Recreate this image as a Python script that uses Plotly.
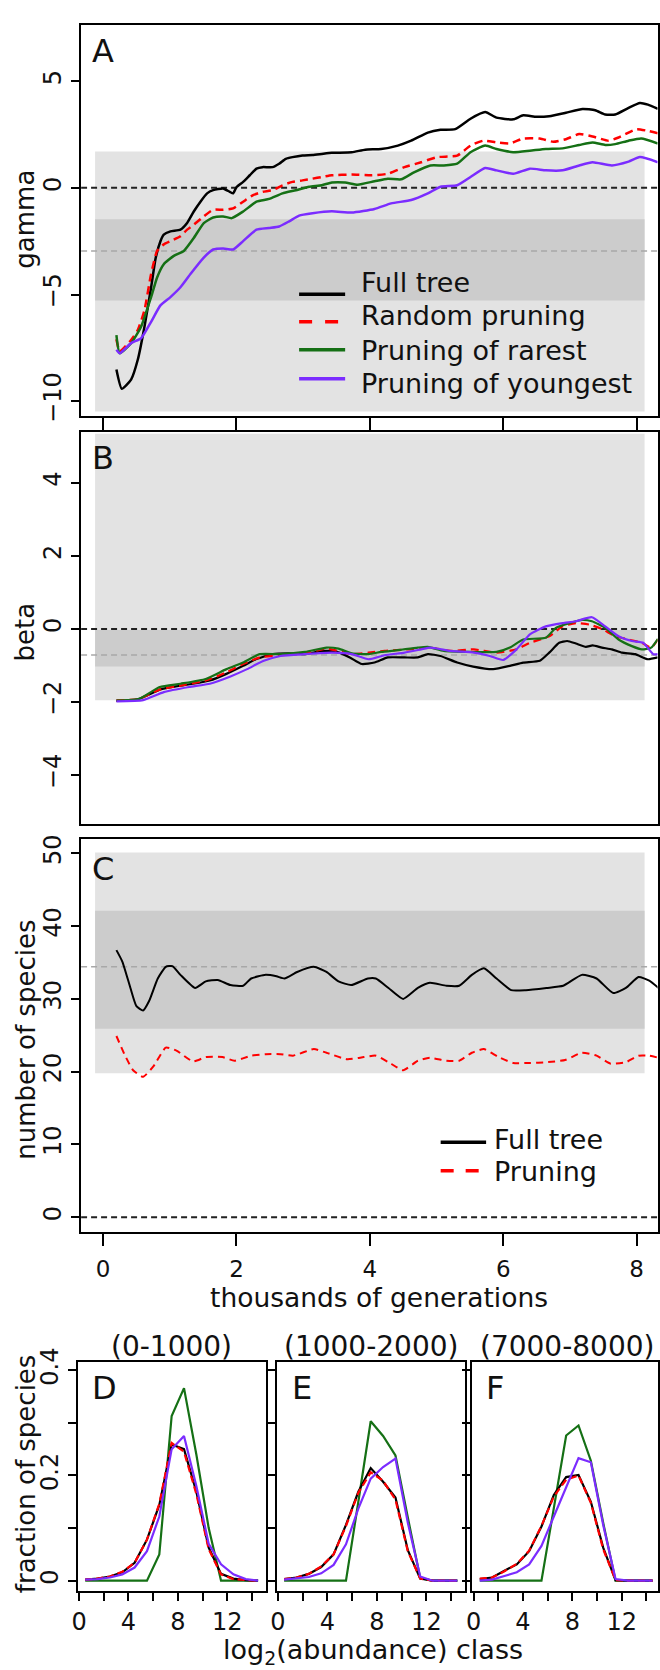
import plotly.graph_objects as go

# ---------------- data ----------------
# Panel A: gamma statistic vs thousands of generations
gamma_full_t = [0.20,0.28,0.42,0.52,0.62,0.72,0.79,0.86,0.91,1.01,1.16,1.26,1.36,1.46,1.56,1.65,1.80,1.90,1.95,2.00,
                2.10,2.20,2.30,2.39,2.54,2.64,2.74,2.84,2.99,3.14,3.28,3.43,3.73,3.93,4.17,4.42,4.62,4.87,5.06,5.28,
                5.51,5.73,5.90,6.15,6.30,6.50,6.69,6.94,7.19,7.38,7.53,7.68,7.88,8.05,8.17,8.32]
gamma_full = [-8.52,-9.42,-8.99,-8.06,-6.52,-4.67,-3.27,-2.50,-2.19,-2.04,-1.96,-1.65,-1.11,-0.65,-0.26,-0.11,-0.03,-0.19,-0.26,0.03,
              0.28,0.59,0.90,0.97,0.97,1.13,1.36,1.44,1.52,1.54,1.59,1.64,1.67,1.79,1.82,1.98,2.21,2.59,2.72,2.75,
              3.24,3.55,3.29,3.21,3.40,3.33,3.36,3.52,3.70,3.64,3.44,3.44,3.75,3.98,3.90,3.70]
gamma_rand_t = [0.20,0.25,0.42,0.52,0.62,0.72,0.81,0.91,1.01,1.16,1.26,1.36,1.51,1.65,1.80,1.95,2.10,2.25,2.39,2.54,
                2.69,2.84,2.99,3.14,3.28,3.43,3.73,4.03,4.27,4.52,4.77,5.01,5.31,5.51,5.70,5.90,6.10,6.30,6.55,6.75,
                6.94,7.14,7.34,7.58,7.73,8.00,8.17,8.32]
gamma_rand = [-7.10,-7.67,-7.13,-6.67,-5.74,-4.04,-2.96,-2.65,-2.50,-2.27,-1.96,-1.73,-1.34,-1.03,-1.03,-0.96,-0.65,-0.34,-0.19,-0.11,
              0.12,0.28,0.35,0.43,0.51,0.59,0.62,0.59,0.66,0.97,1.20,1.44,1.51,1.98,2.21,2.13,2.08,2.31,2.31,2.16,
              2.28,2.52,2.41,2.21,2.36,2.75,2.67,2.56]
gamma_rare_t = [0.20,0.25,0.42,0.57,0.72,0.81,0.91,1.06,1.21,1.36,1.51,1.65,1.80,1.93,2.10,2.30,2.49,2.69,2.89,3.09,
                3.28,3.43,3.63,3.82,4.07,4.27,4.47,4.67,4.91,5.11,5.31,5.51,5.73,5.90,6.15,6.40,6.64,6.89,7.14,7.34,
                7.53,7.68,7.88,8.07,8.32]
gamma_rare = [-6.90,-7.75,-7.28,-6.51,-5.12,-4.20,-3.58,-3.19,-2.96,-2.35,-1.65,-1.39,-1.34,-1.42,-1.11,-0.65,-0.52,-0.26,-0.11,0.05,
              0.12,0.25,0.25,0.15,0.31,0.43,0.40,0.74,1.05,1.05,1.13,1.67,1.98,1.82,1.67,1.74,1.82,1.85,2.01,2.13,
              2.01,2.05,2.21,2.31,2.08]
gamma_young_t = [0.20,0.25,0.42,0.57,0.72,0.86,1.01,1.16,1.31,1.51,1.65,1.80,1.95,2.10,2.30,2.49,2.64,2.79,2.94,3.14,
                 3.43,3.73,4.07,4.32,4.62,4.87,5.06,5.31,5.51,5.73,5.90,6.15,6.40,6.64,6.89,7.14,7.34,7.63,7.88,8.05,8.32]
gamma_young = [-7.59,-7.75,-7.28,-7.05,-6.28,-5.51,-5.12,-4.66,-4.04,-3.27,-2.89,-2.84,-2.89,-2.50,-1.96,-1.88,-1.81,-1.57,-1.30,-1.19,
               -1.10,-1.16,-0.99,-0.73,-0.57,-0.26,0.05,0.12,0.51,0.93,0.82,0.66,0.90,0.82,0.82,1.05,1.20,1.05,1.23,1.44,1.20]

# Panel B: beta statistic
beta_full_t = [0.20,0.48,0.66,0.85,1.04,1.35,1.60,1.85,2.10,2.29,2.54,2.78,3.03,3.28,3.50,3.70,3.88,4.07,4.27,4.52,
               4.72,4.87,5.06,5.31,5.55,5.85,6.10,6.30,6.55,6.69,6.84,6.96,7.09,7.24,7.34,7.48,7.63,7.78,7.98,8.17,8.32]
beta_full = [-1.96,-1.95,-1.82,-1.66,-1.59,-1.50,-1.41,-1.23,-1.01,-0.83,-0.69,-0.67,-0.69,-0.60,-0.62,-0.78,-0.96,-0.92,-0.78,-0.78,
             -0.78,-0.69,-0.74,-0.92,-1.03,-1.10,-1.01,-0.92,-0.87,-0.65,-0.38,-0.33,-0.40,-0.49,-0.45,-0.51,-0.56,-0.65,-0.69,-0.83,-0.78]
beta_rand_t = [0.20,0.54,0.85,1.16,1.54,1.85,2.10,2.35,2.66,3.03,3.35,3.73,3.98,4.22,4.57,4.91,5.21,5.56,5.90,6.20,
               6.40,6.69,6.89,7.09,7.29,7.48,7.68,7.88,8.08,8.22,8.32]
beta_rand = [-1.96,-1.91,-1.66,-1.55,-1.41,-1.19,-0.96,-0.78,-0.72,-0.67,-0.54,-0.69,-0.65,-0.60,-0.56,-0.51,-0.60,-0.56,-0.65,-0.56,
             -0.38,-0.20,0.07,0.16,0.12,0.00,-0.20,-0.29,-0.38,-0.51,-0.29]
beta_rare_t = [0.20,0.54,0.85,1.16,1.54,1.85,2.10,2.35,2.66,3.03,3.35,3.53,3.73,3.98,4.17,4.42,4.72,4.87,5.11,5.51,
               5.90,6.10,6.30,6.64,6.79,6.99,7.19,7.33,7.53,7.73,7.93,8.08,8.22,8.32]
beta_rare = [-1.96,-1.91,-1.59,-1.50,-1.37,-1.10,-0.92,-0.69,-0.69,-0.63,-0.51,-0.54,-0.67,-0.69,-0.63,-0.58,-0.51,-0.49,-0.60,-0.63,
             -0.63,-0.51,-0.29,-0.24,0.03,0.16,0.25,0.21,0.03,-0.29,-0.47,-0.56,-0.51,-0.27]
beta_young_t = [0.20,0.60,0.91,1.29,1.60,1.91,2.16,2.41,2.66,3.03,3.43,3.73,3.98,4.22,4.52,4.77,4.91,5.21,5.56,5.80,
                6.00,6.20,6.40,6.64,6.89,7.09,7.33,7.53,7.73,7.93,8.10,8.25,8.32]
beta_young = [-1.98,-1.95,-1.73,-1.59,-1.50,-1.30,-1.10,-0.87,-0.74,-0.69,-0.65,-0.69,-0.83,-0.72,-0.65,-0.56,-0.51,-0.60,-0.65,-0.74,
              -0.85,-0.56,-0.15,0.07,0.16,0.21,0.32,0.07,-0.20,-0.33,-0.38,-0.69,-0.69]

# Panel C: number of species
species_full_t = [0.20,0.29,0.41,0.50,0.60,0.69,0.82,0.94,1.04,1.16,1.38,1.54,1.72,1.91,2.10,2.22,2.44,2.60,2.72,2.91,
                  3.16,3.35,3.53,3.72,3.97,4.09,4.28,4.50,4.72,4.90,5.15,5.34,5.53,5.71,5.90,6.12,6.34,6.65,6.90,7.18,
                  7.40,7.65,7.84,8.03,8.19,8.33]
species_full = [36.7,35.1,31.5,29.0,28.4,29.7,32.8,34.4,34.5,33.3,31.5,32.4,32.6,31.9,31.8,32.8,33.3,33.1,32.8,33.7,
                34.4,33.7,32.4,31.9,32.8,32.8,31.5,30.0,31.5,32.2,31.8,31.8,33.3,34.2,32.8,31.2,31.2,31.5,31.8,33.3,
                32.8,30.8,31.5,33.0,32.5,31.5]
species_prun_t = [0.20,0.32,0.45,0.60,0.76,0.94,1.10,1.35,1.54,1.79,1.97,2.22,2.44,2.66,2.85,3.16,3.35,3.66,3.91,4.09,
                  4.28,4.50,4.72,4.90,5.15,5.34,5.53,5.71,5.93,6.15,6.40,6.65,6.93,7.18,7.40,7.61,7.84,8.03,8.19,8.33]
species_prun = [24.9,22.4,20.2,19.3,20.8,23.3,22.9,21.4,22.0,22.0,21.5,22.2,22.4,22.4,22.2,23.1,22.6,21.7,22.0,22.2,
                21.3,20.2,21.5,21.9,21.5,21.5,22.6,23.1,22.0,21.2,21.2,21.3,21.6,22.6,22.2,21.1,21.3,22.2,22.2,21.9]

# Null-model bands (mean, 95% ranges) and time span of the bands
band_t = [-0.12, 8.12]
gamma_band_outer = [-10.48, 1.70]
gamma_band_inner = [-5.28, -1.47]
gamma_null_mean = -2.96
beta_band_outer = [-1.95, 5.34]
beta_band_inner = [-1.03, -0.03]
beta_null_mean = -0.71
species_band_outer = [19.8, 50.1]
species_band_inner = [25.9, 42.1]
species_null_mean = 34.4

# Panels D-F: abundance distributions (log2 abundance classes)
abund_class = [0.5,1.5,2.5,3.5,4.5,5.5,6.5,7.5,8.5,9.5,10.5,11.5,12.5,13.5,14.5]
d_full = [0.002,0.004,0.008,0.016,0.034,0.078,0.144,0.259,0.250,0.169,0.063,0.013,0.004,0.001,0.0]
d_rand = [0.002,0.004,0.008,0.017,0.034,0.078,0.146,0.262,0.245,0.165,0.060,0.012,0.003,0.001,0.0]
d_rare = [0.0,0.0,0.0,0.0,0.0,0.0,0.050,0.313,0.366,0.240,0.100,0.0,0.0,0.0,0.0]
d_young = [0.002,0.003,0.006,0.012,0.025,0.056,0.122,0.250,0.275,0.180,0.070,0.031,0.012,0.003,0.0]
e_full = [0.003,0.006,0.013,0.026,0.050,0.106,0.169,0.214,0.188,0.158,0.058,0.004,0.0,0.0,0.0]
e_rand = [0.003,0.006,0.013,0.027,0.050,0.104,0.167,0.206,0.190,0.154,0.056,0.004,0.0,0.0,0.0]
e_rare = [0.0,0.0,0.0,0.0,0.0,0.0,0.150,0.303,0.275,0.238,0.120,0.005,0.0,0.0,0.0]
e_young = [0.002,0.004,0.007,0.014,0.030,0.069,0.137,0.194,0.216,0.232,0.110,0.008,0.0,0.0,0.0]
f_full = [0.003,0.006,0.019,0.031,0.056,0.103,0.163,0.197,0.201,0.150,0.063,0.001,0.0,0.0,0.0]
f_rand = [0.004,0.006,0.018,0.032,0.057,0.104,0.160,0.192,0.200,0.148,0.060,0.001,0.0,0.0,0.0]
f_rare = [0.0,0.0,0.0,0.0,0.0,0.0,0.138,0.276,0.295,0.228,0.110,0.0,0.0,0.0,0.0]
f_young = [0.0,0.002,0.009,0.016,0.031,0.066,0.122,0.178,0.233,0.225,0.106,0.003,0.0,0.0,0.0]

panel_titles = ["(0-1000)", "(1000-2000)", "(7000-8000)"]
legend_a = ["Full tree", "Random pruning", "Pruning of rarest", "Pruning of youngest"]
legend_c = ["Full tree", "Pruning"]
time_ticks = [0, 2, 4, 6, 8]
class_ticks_major = [0, 4, 8, 12]
class_ticks_minor = [2, 6, 10, 14]
frac_ticks_major = [0, 0.2, 0.4]
frac_ticks_minor = [0.1, 0.3]

# ---------------- styling ----------------
FONT = "DejaVu Sans"
TXT = "#111111"
W, H = 660, 1670
BLACK, RED, GREEN, PURPLE = "#000000", "#ff0000", "#157015", "#7b2cff"
LIGHT, DARK = "#e3e3e3", "#cccccc"

def fx(p):
    return p / W

def fy(p):
    return 1 - p / H

fig = go.Figure()

def line(x, y, color, xa, ya, width=2.5, dash="solid", smooth=True):
    ln = dict(color=color, width=width, dash=dash)
    if smooth:
        ln.update(shape="spline", smoothing=0.5)
    fig.add_trace(go.Scatter(x=x, y=y, mode="lines", xaxis=xa, yaxis=ya, line=ln,
                             showlegend=False, hoverinfo="skip"))

# Panel A
line(gamma_full_t, gamma_full, BLACK, "x", "y")
line(gamma_rand_t, gamma_rand, RED, "x", "y", dash="8px,5px")
line(gamma_rare_t, gamma_rare, GREEN, "x", "y")
line(gamma_young_t, gamma_young, PURPLE, "x", "y")
# Panel B
line(beta_full_t, beta_full, BLACK, "x2", "y2", width=2.2)
line(beta_rand_t, beta_rand, RED, "x2", "y2", width=2.2, dash="8px,5px")
line(beta_rare_t, beta_rare, GREEN, "x2", "y2", width=2.2)
line(beta_young_t, beta_young, PURPLE, "x2", "y2", width=2.2)
# Panel C
line(species_full_t, species_full, BLACK, "x3", "y3", width=2)
line(species_prun_t, species_prun, RED, "x3", "y3", width=2, dash="7px,5px")
# Panels D-F
for (xa, ya, full, rand, rare, young) in [("x4", "y4", d_full, d_rand, d_rare, d_young),
                                          ("x5", "y5", e_full, e_rand, e_rare, e_young),
                                          ("x6", "y6", f_full, f_rand, f_rare, f_young)]:
    line(abund_class, rare, GREEN, xa, ya, width=2.2, smooth=False)
    line(abund_class, full, BLACK, xa, ya, width=2.2, smooth=False)
    line(abund_class, rand, RED, xa, ya, width=2.2, dash="7px,4px", smooth=False)
    line(abund_class, young, PURPLE, xa, ya, width=2.2, smooth=False)

def axis(domain, rng, anchor, **kw):
    d = dict(domain=domain, range=rng, anchor=anchor, showline=True, linecolor="black", linewidth=2,
             mirror=True, showgrid=False, zeroline=False, ticks="outside", tickcolor="black",
             tickwidth=2, ticklen=8, tickfont=dict(family=FONT, size=24, color=TXT), fixedrange=True)
    d.update(kw)
    return d

main_x = [fx(76), fx(659.5)]
xr = [-0.33, 8.314]
layout_axes = dict(
    xaxis=axis(main_x, xr, "y", tickvals=time_ticks, showticklabels=False, ticklen=12),
    yaxis=axis([fy(407), fy(11)], [-10.69, 7.64], "x", tickvals=[-10, -5, 0, 5], tickangle=-90),
    xaxis2=axis(main_x, xr, "y2", ticks="", showticklabels=False),
    yaxis2=axis([fy(820), fy(423.3)], [-5.33, 5.39], "x2", tickvals=[-4, -2, 0, 2, 4], tickangle=-90),
    xaxis3=axis(main_x, xr, "y3", tickvals=time_ticks, ticklen=12, ticklabelstandoff=4,
                tickfont=dict(family=FONT, size=23, color=TXT)),
    yaxis3=axis([fy(1233.3), fy(836)], [-2.0, 51.9], "x3", tickvals=[0, 10, 20, 30, 40, 50], tickangle=-90),
)
minor_x = dict(tickvals=class_ticks_minor, ticks="outside", ticklen=8, tickwidth=2, tickcolor="black", showgrid=False)
minor_y = dict(tickvals=frac_ticks_minor, ticks="outside", ticklen=8, tickwidth=2, tickcolor="black", showgrid=False)
byr = [-0.02, 0.416]
bdom = [fy(1597.3), fy(1365)]
layout_axes.update(
    xaxis4=axis([fx(72.7), fx(263.3)], [-0.1, 15.15], "y4", tickvals=class_ticks_major, minor=minor_x),
    yaxis4=axis(bdom, byr, "x4", tickvals=frac_ticks_major, ticktext=["0", "0.2", "0.4"], tickangle=-90, minor=minor_y),
    xaxis5=axis([fx(274), fx(465)], [-0.1, 15.15], "y5", tickvals=class_ticks_major, minor=minor_x),
    yaxis5=axis(bdom, byr, "x5", tickvals=frac_ticks_major, showticklabels=False, minor=minor_y),
    xaxis6=axis([fx(471.7), 1.0], [-0.13, 14.94], "y6", tickvals=class_ticks_major, minor=minor_x),
    yaxis6=axis(bdom, byr, "x6", tickvals=frac_ticks_major, showticklabels=False, minor=minor_y),
)

shapes = []
def band(xref, yref, y0, y1, color):
    shapes.append(dict(type="rect", xref=xref, yref=yref, x0=band_t[0], x1=band_t[1], y0=y0, y1=y1,
                       fillcolor=color, line=dict(width=0), layer="below"))

def hline(xref, yref, yv, color, width, dash):
    # spans the whole axis range, drawn in the same subplot layer as the bands
    shapes.append(dict(type="line", xref=xref, yref=yref, x0=xr[0], x1=xr[1], y0=yv, y1=yv,
                       line=dict(color=color, width=width, dash=dash), layer="below"))

band("x", "y", gamma_band_outer[0], gamma_band_outer[1], LIGHT)
band("x", "y", gamma_band_inner[0], gamma_band_inner[1], DARK)
hline("x", "y", gamma_null_mean, "#a8a8a8", 1.5, "6px,4px")
hline("x", "y", 0, "#222222", 2, "6px,4px")
band("x2", "y2", beta_band_outer[0], beta_band_outer[1], LIGHT)
band("x2", "y2", beta_band_inner[0], beta_band_inner[1], DARK)
hline("x2", "y2", beta_null_mean, "#a8a8a8", 1.5, "6px,4px")
hline("x2", "y2", 0, "#222222", 2, "6px,4px")
band("x3", "y3", species_band_outer[0], species_band_outer[1], LIGHT)
band("x3", "y3", species_band_inner[0], species_band_inner[1], DARK)
hline("x3", "y3", species_null_mean, "#a8a8a8", 1.5, "6px,4px")
hline("x3", "y3", 0, "#222222", 2, "6px,4px")

annotations = []
def text(t, x, y, size, angle=0, xanchor="center", yanchor="middle"):
    annotations.append(dict(text=t, x=fx(x), y=fy(y), xref="paper", yref="paper", showarrow=False,
                            textangle=angle, xanchor=xanchor, yanchor=yanchor,
                            font=dict(family=FONT, size=size, color=TXT)))

# legends (manual, positioned like the original)
leg_a_colors = [BLACK, RED, GREEN, PURPLE]
leg_a_line_y = [283.7, 311.7, 340.0, 369.5]
leg_a_text_y = [271.7, 305.7, 340.3, 373.7]
for lab, col, ly, ty in zip(legend_a, leg_a_colors, leg_a_line_y, leg_a_text_y):
    shapes.append(dict(type="line", xref="paper", yref="paper", x0=fx(296.7), x1=fx(343.3), y0=fy(ly), y1=fy(ly),
                       line=dict(color=col, width=3.5, dash="13px,13px" if col == RED else "solid")))
    text(lab, 357, ty, 27, xanchor="left")
for lab, col, ly, ty in zip(legend_c, [BLACK, RED], [1142.7, 1171.5], [1140, 1172]):
    shapes.append(dict(type="line", xref="paper", yref="paper", x0=fx(440), x1=fx(486), y0=fy(ly), y1=fy(ly),
                       line=dict(color=col, width=3.5, dash="13px,12px" if col == RED else "solid")))
    text(lab, 492, ty, 27, xanchor="left")

# panel letters
for lab, x, y in [("A", 85, 37), ("B", 85, 450), ("C", 85, 866),
                  ("D", 85, 1392), ("E", 287, 1392), ("F", 484, 1392)]:
    text(lab, x, y, 32, xanchor="left")

# axis titles
text("gamma", 19, 207.5, 26, angle=-90)
text("beta", 19, 625.5, 26, angle=-90)
text("number of species", 20, 1039, 26, angle=-90)
text("fraction of species", 21, 1478, 26, angle=-90)
text("thousands of generations", 378, 1300, 26.5)
text("log<sub>2</sub>(abundance) class", 372, 1658, 27)
for t, xc in zip(panel_titles, [168, 369.5, 567.5]):
    text(t, xc, 1349, 28)

fig.update_layout(width=W, height=H, margin=dict(l=0, r=0, t=0, b=0),
                  paper_bgcolor="white", plot_bgcolor="white", showlegend=False,
                  shapes=shapes, annotations=annotations, **layout_axes)

fig.write_html("out.html")
